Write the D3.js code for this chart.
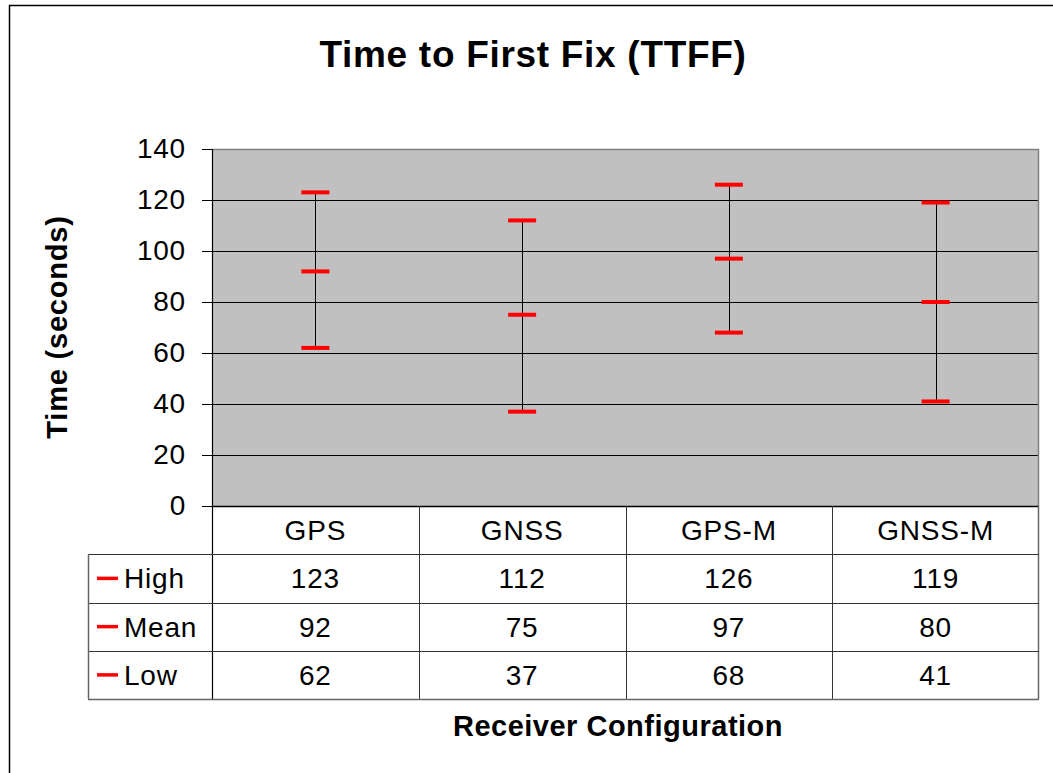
<!DOCTYPE html>
<html>
<head>
<meta charset="utf-8">
<script src="https://cdn.jsdelivr.net/npm/d3@7"></script>
<style>
  html, body { margin: 0; padding: 0; background: #fff; }
  svg { display: block; font-family: Arial, "Liberation Sans", sans-serif; }
</style>
</head>
<body>
<svg id="chart" width="1053" height="773"></svg>
<script>
const categories = ["GPS", "GNSS", "GPS-M", "GNSS-M"];
const highValues = [123, 112, 126, 119];
const meanValues = [92, 75, 97, 80];
const lowValues = [62, 37, 68, 41];
const seriesNames = ["High", "Mean", "Low"];
const yTicks = [0, 20, 40, 60, 80, 100, 120, 140];

const svg = d3.select("#chart");
const plot = { left: 212, right: 1039, top: 149, bottom: 506 };
const tableBottom = 699;
const rowH = (tableBottom - plot.bottom) / 4;
const legendLeft = 88;
const FS = 28, LS = 0.8;

const x = d3.scaleBand().domain(categories).range([plot.left, plot.right]).padding(0);
const y = d3.scaleLinear().domain([0, 140]).range([plot.bottom, plot.top]);

// outer chart border (extends beyond the visible window)
svg.append("rect").attr("x", 9.5).attr("y", 5.5).attr("width", 1100).attr("height", 900)
  .attr("fill", "none").attr("stroke", "#000").attr("stroke-width", 1.5);

// title
svg.append("text").attr("x", 533).attr("y", 67).attr("text-anchor", "middle")
  .attr("font-size", 37).attr("letter-spacing", 0.7).attr("font-weight", "bold").text("Time to First Fix (TTFF)");

// plot background
svg.append("rect").attr("x", plot.left).attr("y", plot.top)
  .attr("width", plot.right - plot.left).attr("height", plot.bottom - plot.top)
  .attr("fill", "#C0C0C0");

// gridlines
svg.append("g").selectAll("line").data(yTicks.filter(d => d > 0 && d < 140)).join("line")
  .attr("x1", plot.left).attr("x2", plot.right)
  .attr("y1", d => Math.round(y(d)) + 0.5).attr("y2", d => Math.round(y(d)) + 0.5)
  .attr("stroke", "#000").attr("stroke-width", 1);

// plot top / right border (gray)
svg.append("path")
  .attr("d", `M${plot.left},${plot.top + 0.5}H${plot.right - 0.5}V${plot.bottom}`)
  .attr("fill", "none").attr("stroke", "#808080").attr("stroke-width", 1.5);

// y axis
const yAxis = d3.axisLeft(y).tickValues(yTicks).tickSize(10).tickPadding(16);
const ya = svg.append("g").attr("transform", `translate(${plot.left},0)`).call(yAxis);
ya.select(".domain").remove();
ya.selectAll(".tick line").attr("stroke", "#000");
ya.selectAll(".tick text").attr("font-size", FS).attr("letter-spacing", LS).attr("fill", "#000")
  .attr("font-family", "Arial, 'Liberation Sans', sans-serif");
svg.append("line").attr("x1", plot.left + 0.5).attr("x2", plot.left + 0.5)
  .attr("y1", plot.top).attr("y2", tableBottom).attr("stroke", "#000").attr("stroke-width", 1.2);

// y axis title
svg.append("text").attr("transform", `translate(67,${327}) rotate(-90)`)
  .attr("text-anchor", "middle").attr("font-size", 29).attr("letter-spacing", 0.8).attr("font-weight", "bold")
  .text("Time (seconds)");

// error bars
const data = categories.map((c, i) => ({ c, high: highValues[i], mean: meanValues[i], low: lowValues[i] }));
const capW = 28;
const g = svg.append("g");
g.selectAll("line.v").data(data).join("line").attr("class", "v")
  .attr("x1", d => Math.round(x(d.c) + x.bandwidth() / 2) + 0.5)
  .attr("x2", d => Math.round(x(d.c) + x.bandwidth() / 2) + 0.5)
  .attr("y1", d => y(d.high)).attr("y2", d => y(d.low))
  .attr("stroke", "#000").attr("stroke-width", 1);
[highValues, meanValues, lowValues].forEach(vals => {
  g.selectAll(null).data(data.map((d, i) => ({ c: d.c, v: vals[i] }))).join("line")
    .attr("x1", d => x(d.c) + x.bandwidth() / 2 - capW / 2)
    .attr("x2", d => x(d.c) + x.bandwidth() / 2 + capW / 2)
    .attr("y1", d => y(d.v)).attr("y2", d => y(d.v))
    .attr("stroke", "#FF0000").attr("stroke-width", 4);
});

// x axis line (baseline)
svg.append("line").attr("x1", plot.left).attr("x2", plot.right)
  .attr("y1", plot.bottom + 0.5).attr("y2", plot.bottom + 0.5)
  .attr("stroke", "#000").attr("stroke-width", 1.5);
svg.append("line").attr("x1", plot.left - 10).attr("x2", plot.left)
  .attr("y1", plot.bottom + 0.5).attr("y2", plot.bottom + 0.5)
  .attr("stroke", "#000").attr("stroke-width", 1);

// data table
const t = svg.append("g");
const colEdges = categories.map(c => x(c)).slice(1);
t.selectAll("line.col").data(colEdges).join("line").attr("class", "col")
  .attr("x1", d => Math.round(d) + 0.5).attr("x2", d => Math.round(d) + 0.5)
  .attr("y1", plot.bottom).attr("y2", tableBottom)
  .attr("stroke", "#333").attr("stroke-width", 1);
t.append("line").attr("x1", plot.right - 0.5).attr("x2", plot.right - 0.5)
  .attr("y1", plot.bottom).attr("y2", tableBottom).attr("stroke", "#666").attr("stroke-width", 1.5);
const rowLines = [1, 2, 3].map(i => plot.bottom + rowH * i);
t.selectAll("line.row").data(rowLines).join("line").attr("class", "row")
  .attr("x1", legendLeft).attr("x2", plot.right)
  .attr("y1", d => Math.round(d) + 0.5).attr("y2", d => Math.round(d) + 0.5)
  .attr("stroke", "#333").attr("stroke-width", 1);
t.append("line").attr("x1", legendLeft).attr("x2", plot.right)
  .attr("y1", tableBottom + 0.5).attr("y2", tableBottom + 0.5).attr("stroke", "#666").attr("stroke-width", 1.5);
t.append("line").attr("x1", legendLeft + 0.5).attr("x2", legendLeft + 0.5)
  .attr("y1", plot.bottom + rowH).attr("y2", tableBottom).attr("stroke", "#666").attr("stroke-width", 1.5);

// header text
t.selectAll("text.hdr").data(categories).join("text").attr("class", "hdr")
  .attr("x", d => x(d) + x.bandwidth() / 2).attr("y", plot.bottom + rowH / 2 + 10)
  .attr("text-anchor", "middle").attr("font-size", FS).attr("letter-spacing", LS).text(d => d);

// rows
const rows = [highValues, meanValues, lowValues];
rows.forEach((vals, r) => {
  const cy = plot.bottom + rowH * (r + 1) + rowH / 2;
  t.append("line").attr("x1", 97).attr("x2", 118).attr("y1", cy).attr("y2", cy)
    .attr("stroke", "#FF0000").attr("stroke-width", 3.5);
  t.append("text").attr("x", 124).attr("y", cy + 10).attr("font-size", FS).attr("letter-spacing", LS).text(seriesNames[r]);
  t.selectAll(null).data(categories.map((c, i) => ({ c, v: vals[i] }))).join("text")
    .attr("x", d => x(d.c) + x.bandwidth() / 2).attr("y", cy + 10)
    .attr("text-anchor", "middle").attr("font-size", FS).attr("letter-spacing", LS).text(d => d.v);
});

// x axis title
svg.append("text").attr("x", 618).attr("y", 736).attr("text-anchor", "middle")
  .attr("font-size", 29).attr("letter-spacing", 0.5).attr("font-weight", "bold").text("Receiver Configuration");
</script>
</body>
</html>
